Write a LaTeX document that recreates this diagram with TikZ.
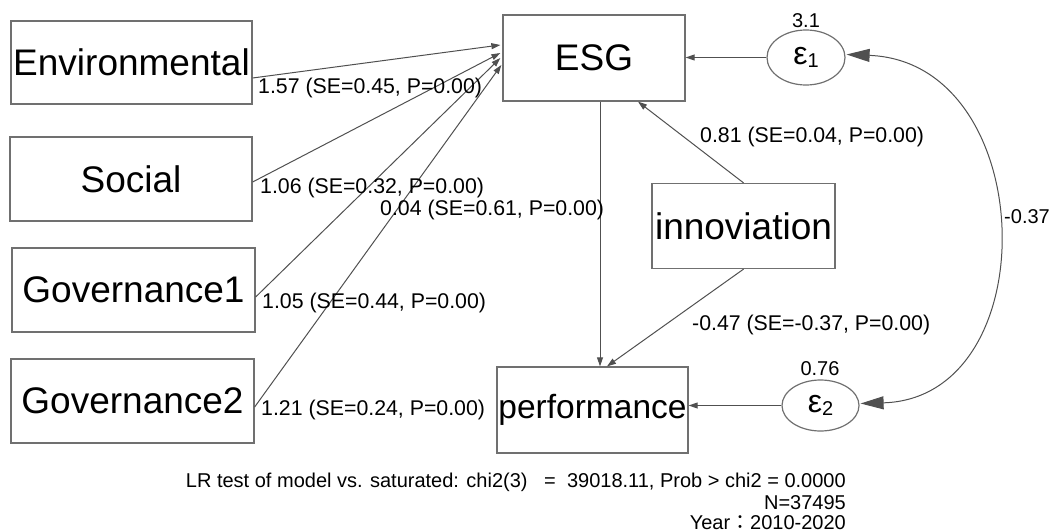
\documentclass[tikz,border=0pt]{standalone}
\usepackage{fontspec}
\setmainfont{Liberation Sans}
\newfontfamily\cjk{Noto Sans CJK TC}
\usetikzlibrary{arrows.meta,calc,shapes.geometric}
\definecolor{boxgray}{HTML}{707070}
\definecolor{linegray}{HTML}{505050}
\tikzset{
  varbox/.style={draw=boxgray, line width=1.3pt, rectangle, inner sep=0pt,
    font=\fontsize{37}{40}\selectfont},
  errnode/.style={draw=boxgray, line width=1.2pt, ellipse, inner sep=0pt},
  arr/.style={draw=linegray, line width=1pt, -{Triangle[length=9pt,width=6pt]}},
  bigarr/.style={draw=linegray, line width=1pt,
    {Triangle[length=23pt,width=13pt]}-{Triangle[length=23pt,width=13pt]}},
  elab/.style={anchor=west, inner sep=0pt, font=\fontsize{21.3}{24}\selectfont},
  smlab/.style={inner sep=0pt, font=\fontsize{20}{22}\selectfont},
  foot/.style={anchor=east, inner sep=0pt, font=\fontsize{20}{22}\selectfont}
}
\begin{document}
\begin{tikzpicture}[x=1pt, y=-1pt]
\useasboundingbox (0,0) rectangle (1054,532);
% variable boxes
\node[varbox, minimum width=241pt, minimum height=83pt] (env) at (131.5,62.5) {Environmental};
\node[varbox, minimum width=242pt, minimum height=84pt] (soc) at (131,179) {Social};
\node[varbox, minimum width=243pt, minimum height=84pt] (gov1) at (133.5,290) {Governance1};
\node[varbox, minimum width=243pt, minimum height=84pt] (gov2) at (132.5,401) {Governance2};
\node[varbox, minimum width=182pt, minimum height=86pt] (esg) at (594,58) {ESG};
\node[varbox, minimum width=183pt, minimum height=85pt] (inn) at (743.5,226) {innoviation};
\node[varbox, minimum width=191pt, minimum height=86pt, font=\fontsize{33.5}{36}\selectfont] (perf) at (592.5,410) {performance};
% error terms
\node[errnode, minimum width=78pt, minimum height=55pt] (e1) at (806,57.5)
  {\fontsize{32}{34}\selectfont ε\raisebox{-3pt}{\fontsize{20}{22}\selectfont 1}};
\node[errnode, minimum width=77pt, minimum height=51pt] (e2) at (820.5,405.5)
  {\fontsize{32}{34}\selectfont ε\raisebox{-3pt}{\fontsize{20}{22}\selectfont 2}};
% paths into ESG
\draw[arr] ($(env.east)+(0,15.5)$) -- ($(esg.west)+(-2,-13)$);
\draw[arr] ($(soc.east)+(0,3)$) -- ($(esg.west)+(-2,-5)$);
\draw[arr] ($(gov1.east)+(0,7)$) -- ($(esg.west)+(-2,0)$);
\draw[arr] ($(gov2.east)+(0,6)$) -- ($(esg.west)+(-1,7)$);
\draw[arr] (inn.north) -- ($(esg.south)+(44,0)$);
\draw[arr] ($(esg.south)+(6,0)$) -- ($(perf.north)+(7.5,0)$);
\draw[arr] (inn.south) -- ($(perf.north)+(14.5,0)$);
\draw[arr] (e1.west) -- (e1.west -| esg.east);
\draw[arr] (e2.west) -- (e2.west -| perf.east);
\draw[bigarr] ($(e1.east)+(1,-3)$) .. controls (1040,62) and (1048,398) .. ($(e2.east)+(1,-2)$);
% path labels
\node[elab] (l1) at (258,88) {1.57 (SE=0.45, P=0.00)};
\node[elab] (l2) at (260,188) {1.06 (SE=0.32, P=0.00)};
\node[elab] (l3) at (380,210) {0.04 (SE=0.61, P=0.00)};
\node[elab] (l4) at (262,303) {1.05 (SE=0.44, P=0.00)};
\node[elab] (l5) at (261,410) {1.21 (SE=0.24, P=0.00)};
\node[elab] (l6) at (700,137) {0.81 (SE=0.04, P=0.00)};
\node[elab] (l7) at (692,325) {-0.47 (SE=-0.37, P=0.00)};
\node[smlab] (v1) at (806,21) {3.1};
\node[smlab] (v2) at (820,369) {0.76};
\node[smlab] (cv) at (1027,217) {-0.37};
% footer
\node[foot] (f1) at (846,482) {LR test of model vs. saturated: chi2(3)\ \ \ =\ \ 39018.11, Prob > chi2 = 0.0000};
\node[foot] (f2) at (846,503) {N=37495};
\node[foot] (f3) at (846,523) {Year\smash{\cjk ：}2010-2020};
\end{tikzpicture}
\end{document}
